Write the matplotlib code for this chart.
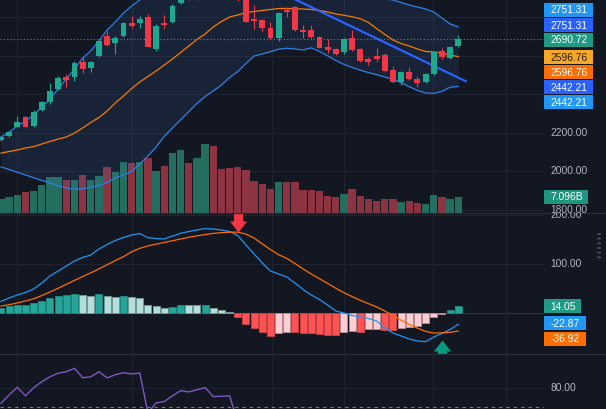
import numpy as np
import matplotlib
matplotlib.use("Agg")
import matplotlib.pyplot as plt
from matplotlib.path import Path
from matplotlib.lines import Line2D
from matplotlib.patches import Rectangle
from matplotlib.transforms import Bbox, blended_transform_factory

# ---------------- data ----------------
opens = [2164, 2184, 2233, 2282, 2236, 2319, 2363, 2427, 2491, 2489,
         2570, 2536, 2601, 2705, 2666, 2704, 2770, 2770, 2804, 2638,
         2770, 2778, 2874, 2925, 2898, 2950, 2985, 2960, 2935, 2915,
         2905, 2791, 2787, 2747, 2692, 2839, 2856, 2735, 2735, 2700,
         2648, 2636, 2622, 2695, 2636, 2584, 2600, 2605, 2527, 2466,
         2518, 2480, 2463, 2506, 2626, 2591, 2652]
highs = [2184, 2210, 2288, 2288, 2317, 2366, 2458, 2496, 2506, 2574,
         2593, 2574, 2688, 2731, 2704, 2777, 2808, 2808, 2816, 2766,
         2813, 2870, 2935, 2940, 2965, 3000, 3000, 2975, 2950, 2925,
         2915, 2865, 2792, 2778, 2826, 2856, 2860, 2761, 2761, 2706,
         2688, 2641, 2691, 2735, 2641, 2596, 2643, 2613, 2548, 2522,
         2544, 2496, 2512, 2626, 2643, 2654, 2709]
lows = [2158, 2179, 2229, 2229, 2231, 2314, 2351, 2423, 2439, 2470,
        2513, 2518, 2597, 2652, 2610, 2699, 2744, 2747, 2647, 2627,
        2739, 2774, 2868, 2893, 2889, 2940, 2940, 2920, 2900, 2888,
        2775, 2739, 2731, 2688, 2680, 2804, 2730, 2692, 2696, 2639,
        2617, 2605, 2609, 2626, 2571, 2553, 2570, 2517, 2462, 2449,
        2475, 2440, 2460, 2501, 2583, 2583, 2649]
closes = [2178, 2204, 2256, 2233, 2311, 2359, 2420, 2486, 2475, 2565,
          2531, 2569, 2679, 2657, 2695, 2770, 2756, 2792, 2648, 2756,
          2761, 2861, 2920, 2900, 2950, 2985, 2955, 2935, 2915, 2900,
          2778, 2782, 2744, 2692, 2822, 2830, 2735, 2723, 2700, 2643,
          2631, 2609, 2687, 2631, 2575, 2570, 2583, 2522, 2466, 2518,
          2480, 2458, 2506, 2622, 2593, 2648, 2690.72]
volume_b = [6.09, 7.10, 8.14, 9.14, 9.58, 12.19, 15.67, 15.67, 14.36, 14.50,
            16.54, 14.50, 16.11, 20.02, 17.85, 22.20, 21.90, 22.20, 24.07, 18.41,
            20.46, 26.12, 27.73, 21.90, 23.94, 30.34, 29.16, 19.15, 19.72, 20.02,
            18.72, 14.23, 12.62, 10.75, 13.49, 13.80, 13.49, 10.01, 10.32, 9.58,
            7.53, 7.10, 8.58, 10.75, 7.70, 6.09, 5.35, 6.09, 6.09, 4.92,
            5.22, 4.66, 4.22, 8.14, 7.10, 6.40, 7.096]
bb_upper = [2179.2, 2205.2, 2236.4, 2262.3, 2293.5, 2335.1, 2376.6, 2428.6, 2480.5, 2532.5,
            2589.6, 2626.0, 2677.9, 2735.1, 2776.6, 2823.4, 2859.8, 2890.9, 2922.1, 2948.1,
            2968.9, 2994.8, 3020.8, 3041.6, 3057.2, 3072.8, 3083.1, 3088.3, 3088.3, 3083.1,
            3072.8, 3062.4, 3052.0, 3041.6, 3031.2, 3020.8, 3010.4, 3000.0, 2989.6, 2979.3,
            2968.9, 2958.5, 2948.1, 2937.7, 2927.3, 2916.9, 2906.5, 2896.1, 2890.9, 2877.9,
            2865.0, 2854.6, 2844.2, 2828.6, 2797.3, 2766.3, 2751.31]
bb_basis = [2095.1, 2103.9, 2111.7, 2122.1, 2129.3, 2142.9, 2155.8, 2168.8, 2179.2, 2200.0,
            2226.0, 2254.5, 2280.5, 2314.3, 2355.9, 2392.2, 2431.2, 2464.9, 2493.5, 2522.1,
            2553.3, 2584.4, 2618.2, 2652.0, 2685.7, 2714.3, 2750.7, 2779.2, 2802.6, 2813.0,
            2826.0, 2831.2, 2836.4, 2841.6, 2846.8, 2846.8, 2845.2, 2844.2, 2841.6, 2836.4,
            2828.6, 2818.2, 2811.5, 2804.2, 2793.3, 2774.6, 2742.4, 2712.2, 2683.1, 2665.0,
            2652.0, 2636.4, 2623.4, 2620.8, 2615.6, 2605.2, 2596.76]
bb_lower = [2023.4, 2010.4, 1995.8, 1981.8, 1967.8, 1953.2, 1940.3, 1924.7, 1914.3, 1908.0,
            1910.1, 1917.9, 1927.3, 1942.8, 1966.2, 1981.8, 2000.0, 2039.0, 2080.5, 2127.3,
            2182.9, 2226.5, 2269.1, 2311.7, 2353.8, 2389.1, 2419.2, 2449.4, 2488.3, 2519.5,
            2561.1, 2600.0, 2610.4, 2622.4, 2635.3, 2640.5, 2636.4, 2631.2, 2642.6, 2623.4,
            2601.1, 2576.6, 2555.9, 2540.8, 2526.2, 2513.8, 2503.4, 2490.9, 2479.0, 2461.3,
            2440.5, 2420.8, 2407.8, 2405.7, 2416.6, 2437.4, 2442.21]
trend_idx = [30.0, 57.04]
trend_price = [3016.7, 2466.4]

macd_line = [23.5, 30.6, 36.7, 41.8, 49.0, 61.2, 75.5, 85.7, 95.9, 106.1,
             113.3, 118.4, 130.6, 139.8, 148.0, 154.1, 159.2, 162.2, 153.7, 152.0,
             151.0, 157.1, 162.7, 166.3, 169.4, 172.4, 171.4, 169.4, 166.3, 158.2,
             138.8, 120.4, 102.0, 85.7, 79.6, 73.5, 61.2, 48.0, 36.7, 27.6,
             16.3, 4.1, 0.0, -5.1, -8.2, -11.2, -16.3, -30.6, -40.8, -46.9,
             -53.1, -57.1, -58.6, -49.0, -41.8, -33.7, -22.87]
macd_signal = [14.0, 17.0, 20.5, 24.5, 29.0, 35.5, 43.0, 50.5, 58.5, 66.5,
               74.5, 82.0, 90.0, 98.5, 107.0, 115.0, 125.0, 132.0, 137.0, 140.5,
               144.0, 147.5, 151.0, 154.5, 157.5, 160.0, 162.5, 164.0, 165.0, 165.0,
               161.0, 153.0, 141.0, 129.5, 119.0, 111.5, 101.0, 90.0, 79.5, 70.0,
               60.5, 50.5, 41.5, 33.5, 26.0, 19.0, 12.5, 4.0, -5.0, -14.5,
               -23.5, -31.0, -37.5, -41.0, -40.5, -39.5, -36.92]
macd_hist = [9.6, 14.3, 16.3, 16.8, 21.0, 25.1, 30.0, 34.7, 36.7, 38.8,
             36.7, 34.7, 38.8, 34.7, 33.3, 34.7, 32.0, 30.0, 15.7, 14.3,
             9.6, 12.9, 16.3, 15.7, 15.3, 15.9, 10.8, 5.5, 2.0, -7.6,
             -23.1, -30.0, -39.4, -46.3, -40.2, -38.2, -39.4, -40.2, -40.8, -42.9,
             -44.9, -45.5, -38.2, -36.1, -38.2, -33.3, -32.7, -34.1, -34.7, -30.0,
             -28.0, -25.9, -21.0, -7.6, -2.7, 6.1, 14.05]
cross_bars = [29, 54]
cross_vals = [165.0, -55.0]
cross_dirs = ['down', 'up']

rsi = [72.1, 76.5, 80.6, 76.0, 80.3, 83.5, 86.1, 88.0, 88.8, 90.6,
       85.6, 86.1, 88.8, 85.5, 87.2, 88.3, 87.6, 88.1, 67.0, 72.3,
       73.0, 76.0, 78.8, 78.1, 79.2, 80.4, 75.6, 75.8, 76.0, 62.0,
       50.0, 48.0, 44.0, 40.0, 52.0, 50.0, 42.0, 41.0, 39.0, 36.0,
       35.0, 34.0, 42.0, 38.0, 34.0, 33.0, 35.0, 30.0, 26.0, 33.0,
       30.0, 28.0, 34.0, 52.0, 48.0, 55.0, 59.0]

price_grid = [1800, 2000, 2200, 2400, 2600, 2800]
price_ticklabels = [1800, 2000, 2200]
macd_grid = [0, 100, 200]
rsi_grid = [80]
rsi_band = 70

# ---------------- style ----------------
W, H, DPI = 606, 409, 100
BG = '#131722'
GRID = '#1f2330'
UP, DOWN = '#1ea88f', '#f23645'
VOL_UP, VOL_DOWN = '#236e5f', '#8c3442'
BAND = '#2f7fe6'
BASIS = '#f57c00'
TXT = '#b2b5be'
FS = 7.4

plt.rcParams['font.family'] = ['Liberation Sans', 'DejaVu Sans']
fig = plt.figure(figsize=(W / DPI, H / DPI), dpi=DPI, facecolor=BG)

MAIN_BOT, MACD_BOT, RSI_BOT = 213.3, 353.5, 409.0
CHART_R = 544.0


def px_rect(top, bot):
    return [0, 1 - bot / H, CHART_R / W, (bot - top) / H]


n = len(closes)
x = np.arange(n)
XLIM = (-0.12, 66.5)
vgrid = [1.92, 16.1, 33.15, 42.05, 52.95, 61.9]


def clean(ax, bg=True):
    ax.set_xlim(*XLIM)
    ax.set_xticks([])
    ax.set_yticks([])
    for s in ax.spines.values():
        s.set_visible(False)
    if bg:
        ax.set_facecolor(BG)
    else:
        ax.patch.set_visible(False)


ax_bg = fig.add_axes(px_rect(0, MAIN_BOT), zorder=0)
ax_vol = fig.add_axes(px_rect(0, MAIN_BOT), zorder=1)
ax_p = fig.add_axes(px_rect(0, MAIN_BOT), zorder=2)
ax_m = fig.add_axes(px_rect(MAIN_BOT, MACD_BOT), zorder=0)
ax_r = fig.add_axes(px_rect(MACD_BOT, RSI_BOT), zorder=0)

clean(ax_bg)
clean(ax_vol, bg=False)
clean(ax_p, bg=False)
clean(ax_m)
clean(ax_r)

P_LIM = (1782.8, 2890.9)
ax_bg.set_ylim(*P_LIM)
ax_p.set_ylim(*P_LIM)
ax_vol.set_ylim(0, 92.85)
M_LIM = (-82.7, 203.5)
ax_m.set_ylim(*M_LIM)
R_LIM = (69.04, 98.45)
ax_r.set_ylim(*R_LIM)

# grids
for v in price_grid:
    ax_bg.axhline(v, color=GRID, lw=0.8)
for v in macd_grid[1:]:
    ax_m.axhline(v, color=GRID, lw=0.8)
for v in rsi_grid:
    ax_r.axhline(v, color=GRID, lw=0.8)
for g in vgrid:
    for a in (ax_bg, ax_m, ax_r):
        a.axvline(g, color=GRID, lw=0.8)

o = np.array(opens); c = np.array(closes); hi = np.array(highs); lo = np.array(lows)
up = c >= o

# volume
ax_vol.bar(x, volume_b, width=0.9, color=np.where(up, VOL_UP, VOL_DOWN), linewidth=0)

# bollinger
ax_p.fill_between(x, bb_lower, bb_upper, color='#4a7fd0', alpha=0.12, linewidth=0, zorder=1)
ax_p.plot(x, bb_upper, color=BAND, lw=0.9, zorder=2)
ax_p.plot(x, bb_lower, color=BAND, lw=0.9, zorder=2)
ax_p.plot(x, bb_basis, color=BASIS, lw=0.9, zorder=2)
ax_p.plot(trend_idx, trend_price, color='#2962ff', lw=1.6, zorder=3, solid_capstyle='butt')

# last price dotted line
ax_p.axhline(closes[-1], color=UP, lw=0.8, ls=(0, (1, 2)), zorder=3)

# candles
cols = np.where(up, UP, DOWN)
ax_p.vlines(x, lo, hi, colors=cols, lw=0.8, zorder=4)
body_bot = np.minimum(o, c)
body_h = np.maximum(np.abs(c - o), 3.0)
ax_p.bar(x, body_h, bottom=body_bot, width=0.72, color=cols, linewidth=0, zorder=5)

# MACD
ax_m.axhline(0, color='#2f3340', lw=0.8, zorder=1)
hist = np.array(macd_hist)
hcols, ecols = [], []
for i, v in enumerate(hist):
    prev = hist[i - 1] if i > 0 else v - 1
    if v >= 0:
        if v > prev:
            hcols.append('#26a69a'); ecols.append('#1f8a80')
        else:
            hcols.append('#b2dfdb'); ecols.append('#7d9996')
    else:
        if v < prev:
            hcols.append('#ff5252'); ecols.append('#c94545')
        else:
            hcols.append('#ffcdd2'); ecols.append('#b89295')
ax_m.bar(x, hist, width=0.86, color=hcols, edgecolor=ecols, linewidth=0.6, zorder=2)
ax_m.plot(x, macd_line, color='#2196f3', lw=0.9, zorder=3)
ax_m.plot(x, macd_signal, color='#ff6d00', lw=0.9, zorder=3)

down_verts = [(0, 0), (0.45, 0.58), (0.24, 0.58), (0.24, 1.0), (-0.24, 1.0),
              (-0.24, 0.58), (-0.45, 0.58), (0, 0)]
down_path = Path(down_verts, closed=True)
up_path = Path([(vx, -vy) for vx, vy in down_verts], closed=True)
for b, v, d in zip(cross_bars, cross_vals, cross_dirs):
    if d == 'down':
        ax_m.plot([b], [v], marker=down_path, markersize=27.4, color='#f23645',
                  markeredgewidth=0, zorder=4, clip_on=False)
    else:
        ax_m.plot([b], [v], marker=up_path, markersize=27.4, color='#089981',
                  markeredgewidth=0, zorder=4, clip_on=True)

# RSI
ax_r.axhline(rsi_band, color='#787b86', lw=0.8, ls=(0, (3, 3.6)))
ax_r.plot(x, rsi, color='#7e57c2', lw=1.0)

# separators
for yy in (MAIN_BOT, MACD_BOT):
    fig.add_artist(Line2D([0, 1], [1 - yy / H] * 2, color='#2a2e39', lw=0.9))

# ---------------- right-hand scale ----------------
def axis_label(ax, val, top_px, bot_px):
    tr = blended_transform_factory(fig.transFigure, ax.transData)
    t = fig.text(550.5 / W, val, f"{val:.2f}", transform=tr, color=TXT,
                 fontsize=FS, va='center', ha='left')
    t.set_clip_box(Bbox.from_extents(CHART_R, H - bot_px, W, H - top_px))
    t.set_clip_on(True)


for v in price_ticklabels:
    axis_label(ax_p, v, 0, MAIN_BOT)
for v in macd_grid[1:]:
    axis_label(ax_m, v, MAIN_BOT, MACD_BOT)
for v in rsi_grid:
    axis_label(ax_r, v, MACD_BOT, RSI_BOT)


def label_box(yc, text, bg, fg, w, h=14.0):
    x0 = 544.3
    fig.add_artist(Rectangle((x0 / W, 1 - (yc + h / 2) / H), w / W, h / H,
                             transform=fig.transFigure, fc=bg, ec='none'))
    fig.text((x0 + 6.3) / W, 1 - (yc + 3.6) / H, text, color=fg, fontsize=FS,
             va='baseline', ha='left')


label_box(9.7, f"{bb_upper[-1]:.2f}", '#2196f3', 'white', 49)
label_box(25.0, f"{bb_upper[-1]:.2f}", '#2962ff', 'white', 49)
label_box(39.7, f"{closes[-1]:.2f}", '#1f9a84', 'white', 49)
label_box(57.0, f"{bb_basis[-1]:.2f}", '#f9a825', '#1c1c1c', 49)
label_box(72.0, f"{bb_basis[-1]:.2f}", '#ff6d00', 'white', 49)
label_box(87.0, f"{bb_lower[-1]:.2f}", '#2962ff', 'white', 49)
label_box(102.2, f"{bb_lower[-1]:.2f}", '#2196f3', 'white', 49)
label_box(196.7, f"{volume_b[-1]:.3f}B", '#1f9580', 'white', 44)
label_box(306.2, f"{macd_hist[-1]:.2f}", '#1f9a84', 'white', 37)
label_box(323.3, f"{macd_line[-1]:.2f}", '#2196f3', 'white', 42)
label_box(338.7, f"{macd_signal[-1]:.2f}", '#ff6d00', 'white', 42)

# pane resize grip
fig.add_artist(Line2D([598.5 / W] * 2, [1 - 233 / H, 1 - 261 / H], color='#4a4e59',
                      lw=2.6, ls=(0, (0.5, 0.8))))

fig.savefig('out.png', dpi=DPI, facecolor=BG)
